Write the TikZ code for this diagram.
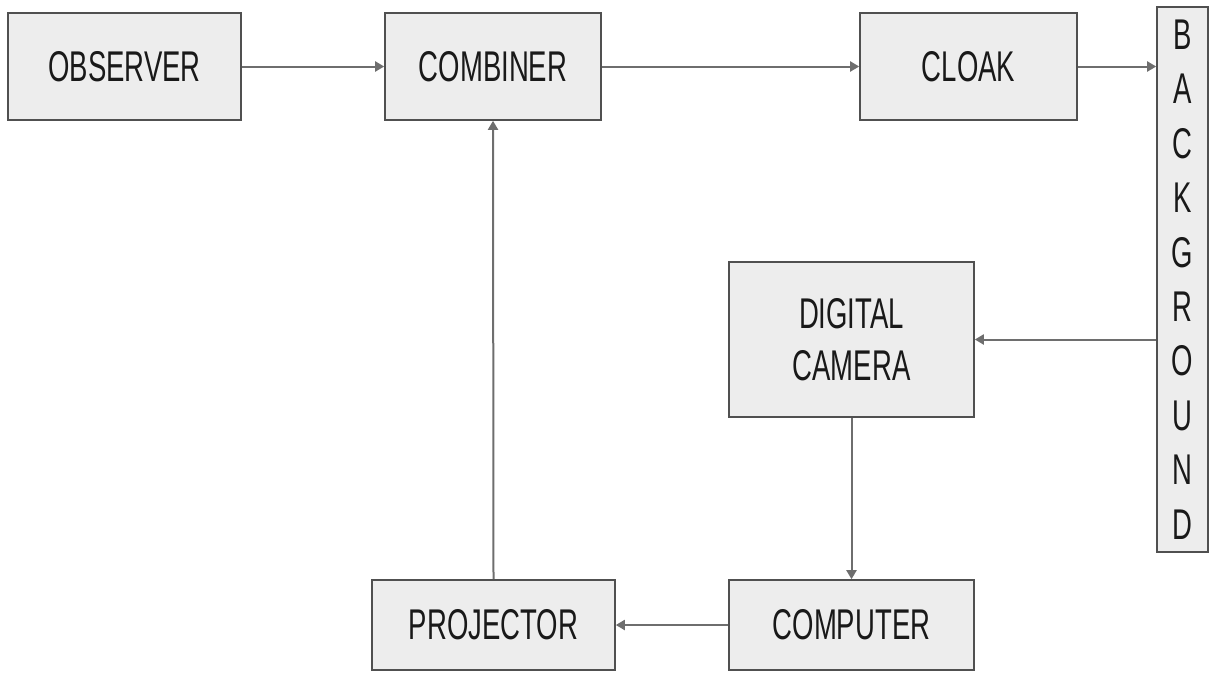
\documentclass[tikz,border=0pt]{standalone}
\usepackage{fontspec}
\setmainfont{Liberation Sans}[FakeStretch=0.64]
\usetikzlibrary{arrows.meta}
\definecolor{boxfill}{HTML}{EDEDED}
\definecolor{boxdraw}{HTML}{505050}
\definecolor{arrowc}{HTML}{6E6E6E}
\begin{document}
\begin{tikzpicture}[x=1pt,y=-1pt,
  box/.style={draw=boxdraw, fill=boxfill, line width=1.6pt, inner sep=0pt,
    font=\fontsize{43}{52}\selectfont, align=center, text=black!90},
  conn/.style={draw=arrowc, line width=2pt, -{Triangle[length=9pt,width=10pt]}}]
\useasboundingbox (0,0) rectangle (1209,673);
\node[box, minimum width=233pt, minimum height=107pt] (obs) at (124.5,66.5) {OBSERVER};
\node[box, minimum width=216pt, minimum height=107pt] (comb) at (493,66.5) {COMBINER};
\node[box, minimum width=217pt, minimum height=107pt] (cloak) at (968.5,66.5) {CLOAK};
\node[box, minimum width=51pt, minimum height=545pt, font=\fontsize{43}{54.4}\selectfont] (bg) at (1182.5,279.5)
  {B\\A\\C\\K\\G\\R\\O\\U\\N\\D};
\node[box, minimum width=245pt, minimum height=155pt] (cam) at (851.5,339.5) {DIGITAL\\CAMERA};
\node[box, minimum width=245pt, minimum height=90pt] (comp) at (851.5,625) {COMPUTER};
\node[box, minimum width=243pt, minimum height=90pt] (proj) at (493.5,625) {PROJECTOR};
\draw[conn] (obs.east) -- (comb.west);
\draw[conn] (comb.east) -- (cloak.west);
\draw[conn] (cloak.east) -- (bg.west |- cloak.east);
\draw[conn] (bg.west |- cam.east) -- (cam.east);
\draw[conn] (cam.south) -- (comp.north);
\draw[conn] (comp.west) -- (proj.east);
\draw[conn] (proj.north) -- (comb.south);
\end{tikzpicture}
\end{document}
